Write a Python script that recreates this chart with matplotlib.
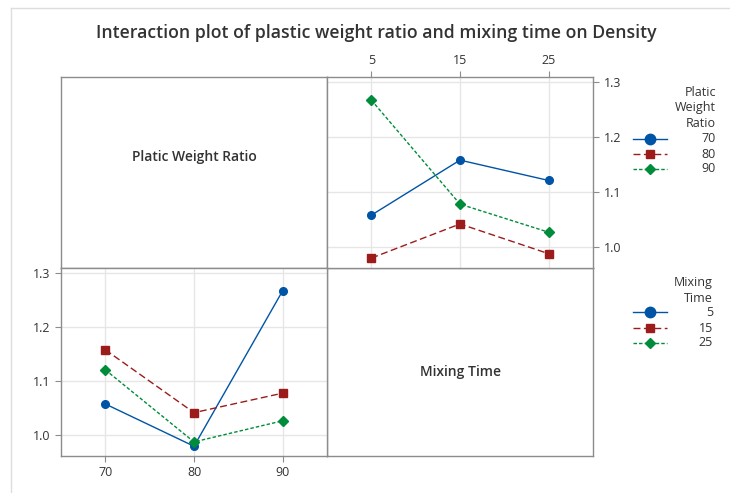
import matplotlib
matplotlib.use('Agg')
import matplotlib.pyplot as plt
from matplotlib.lines import Line2D

plt.rcParams['font.family'] = ['Open Sans', 'DejaVu Sans']

ratios = [70, 80, 90]
times = [5, 15, 25]
# density[ratio] -> values at mixing time 5, 15, 25
density = {
    70: [1.058, 1.158, 1.121],
    80: [0.980, 1.042, 0.988],
    90: [1.267, 1.078, 1.027],
}

colors = ['#0054a6', '#9c1b1b', '#008c3a']
markers = ['o', 's', 'D']
msizes = [5.5, 5.5, 5]
dashes = [None, (5, 2.5), (2.5, 1.5)]

W, H = 730, 493
TXT = '#333333'
SPINE = '#8c8c8c'


def rect(x0, y0, x1, y1):
    return [x0 / W, 1 - y1 / H, (x1 - x0) / W, (y1 - y0) / H]


def style(ax):
    for s in ax.spines.values():
        s.set_color(SPINE)
        s.set_linewidth(1)
    ax.tick_params(colors=SPINE, labelcolor=TXT, labelsize=9, length=4,
                   width=0.8)


def draw_line(ax, xs, ys, i):
    ln, = ax.plot(xs, ys, color=colors[i], marker=markers[i],
                  markersize=msizes[i], lw=1, zorder=3)
    if dashes[i]:
        ln.set_dashes(dashes[i])


def legend(title, labels, y_title, y_rows, x_right):
    fig.text(x_right / W, 1 - y_title / H, title, ha='right', va='top',
             multialignment='right', fontsize=9, color=TXT, linespacing=1.25)
    for i, (lab, y) in enumerate(zip(labels, y_rows)):
        ln = Line2D([633 / W, 667 / W], [1 - y / H] * 2,
                    transform=fig.transFigure, color=colors[i], lw=1)
        if dashes[i]:
            ln.set_dashes(dashes[i])
        fig.add_artist(ln)
        mk = Line2D([650 / W], [1 - y / H], transform=fig.transFigure,
                    color=colors[i], marker=markers[i], linestyle='none',
                    markersize=[7.5, 5.5, 5][i])
        fig.add_artist(mk)
        fig.text(x_right / W, 1 - y / H, str(lab), ha='right', va='center',
                 fontsize=9, color=TXT)


fig = plt.figure(figsize=(7.3, 4.93), dpi=100)

# faint screenshot border
fig.add_artist(Line2D([11 / W, 11 / W], [0, 1 - 8 / H],
                      transform=fig.transFigure, color='#dddddd', lw=1))
fig.add_artist(Line2D([11 / W, 1], [1 - 8 / H, 1 - 8 / H],
                      transform=fig.transFigure, color='#dddddd', lw=1))

fig.text(376 / W, 1 - 33 / H,
         'Interaction plot of plastic weight ratio and mixing time on Density',
         ha='center', va='center', fontsize=12.7, fontweight='semibold',
         color=TXT)

ylim = (0.962, 1.309)
yticks = [1.0, 1.1, 1.2, 1.3]

# top-left label panel
ax_tl = fig.add_axes(rect(61, 77, 327, 268))
style(ax_tl)
ax_tl.set_xticks([])
ax_tl.set_yticks([])
ax_tl.text(0.5, 0.58, 'Platic Weight Ratio', transform=ax_tl.transAxes,
           ha='center', va='center', fontsize=10, fontweight='semibold',
           color=TXT)

# bottom-right label panel
ax_br = fig.add_axes(rect(327, 268, 593, 456))
style(ax_br)
ax_br.set_xticks([])
ax_br.set_yticks([])
ax_br.text(0.5, 0.445, 'Mixing Time', transform=ax_br.transAxes,
           ha='center', va='center', fontsize=10, fontweight='semibold',
           color=TXT)

# top-right: density vs mixing time, one line per ratio
ax_tr = fig.add_axes(rect(327, 77, 593, 268))
style(ax_tr)
for i, r in enumerate(ratios):
    draw_line(ax_tr, times, density[r], i)
ax_tr.set_xlim(0, 30)
ax_tr.set_ylim(*ylim)
ax_tr.set_xticks(times)
ax_tr.set_yticks(yticks)
ax_tr.set_yticklabels([f'{v:.1f}' for v in yticks])
ax_tr.xaxis.tick_top()
ax_tr.yaxis.tick_right()
ax_tr.grid(True, color='#e6e6e6', lw=1, zorder=0)
ax_tr.set_axisbelow(True)

# bottom-left: density vs ratio, one line per mixing time
ax_bl = fig.add_axes(rect(61, 268, 327, 456))
style(ax_bl)
for i, t in enumerate(times):
    ys = [density[r][i] for r in ratios]
    draw_line(ax_bl, ratios, ys, i)
ax_bl.set_xlim(65, 95)
ax_bl.set_ylim(*ylim)
ax_bl.set_xticks(ratios)
ax_bl.set_yticks(yticks)
ax_bl.set_yticklabels([f'{v:.1f}' for v in yticks])
ax_bl.grid(True, color='#e6e6e6', lw=1, zorder=0)
ax_bl.set_axisbelow(True)

legend('Platic\nWeight\nRatio', ratios, 86, [139, 154, 169], 716)
legend('Mixing\nTime', times, 276, [312, 328, 343], 713)

fig.savefig('out.png', dpi=100)
